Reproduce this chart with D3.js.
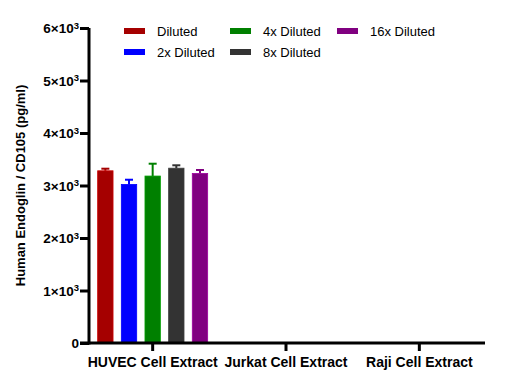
<!DOCTYPE html>
<meta charset="utf-8">
<style>
  body{ margin:0; background:#fff; }
  text{ font-family: "Liberation Sans", Arial, sans-serif; fill:#000; }
</style>
<svg width="529" height="389"></svg>
<script src="https://d3js.org/d3.v7.min.js"></script>
<script>
  // data
  const groups = ['HUVEC Cell Extract', 'Jurkat Cell Extract', 'Raji Cell Extract']
  const series = ['Diluted', '2x Diluted', '4x Diluted', '8x Diluted', '16x Diluted']
  const colors = ['#a50000', '#0000ff', '#008000', '#333333', '#800080']
  const means = [3280, 3020, 3180, 3330, 3230]
  const errs = [40, 90, 235, 55, 65]
  const yTicks = [0, 1000, 2000, 3000, 4000, 5000, 6000]

  const svg = d3.select('svg')
  const plotTop = 28, plotBottom = 343, plotLeft = 89, plotRight = 486

  const y = d3.scaleLinear().domain([0, 6000]).range([plotBottom, plotTop])
  const x = d3.scaleBand().domain(groups).range([86, plotRight])
  const xs = d3.scaleBand().domain(series).range([-55, 55]).paddingInner(0.35)

  // bars (only HUVEC has values)
  const g = svg.append('g')
    .attr('transform', 'translate(' + (x(groups[0]) + x.bandwidth()/2) + ',0)')

  // error bars
  g.selectAll('.err')
    .data(series)
    .enter()
    .append('g')
    .each(function(d, i){
      const cx = xs(d) + xs.bandwidth()/2
      const sel = d3.select(this)
      sel.append('line')
        .attr('x1', cx).attr('x2', cx)
        .attr('y1', y(means[i])).attr('y2', y(means[i] + errs[i]))
        .attr('stroke', colors[i]).attr('stroke-width', 2)
      sel.append('line')
        .attr('x1', cx - 4).attr('x2', cx + 4)
        .attr('y1', y(means[i] + errs[i])).attr('y2', y(means[i] + errs[i]))
        .attr('stroke', colors[i]).attr('stroke-width', 2)
    })

  g.selectAll('rect')
    .data(series)
    .enter()
    .append('rect')
    .attr('x', d => xs(d))
    .attr('width', xs.bandwidth())
    .attr('y', (d, i) => y(means[i]))
    .attr('height', (d, i) => plotBottom - y(means[i]))
    .attr('fill', (d, i) => colors[i])
    .attr('stroke', (d, i) => d3.color(colors[i]).brighter(0.6))
    .attr('stroke-width', 0.8)

  // y axis
  const yAxis = svg.append('g')
    .attr('transform', 'translate(' + plotLeft + ',0)')
    .call(d3.axisLeft(y).tickValues(yTicks).tickSize(9).tickFormat(''))
  yAxis.select('.domain').attr('stroke-width', 3).attr('d', 'M0,' + plotTop + 'V' + (plotBottom + 1.5))
  yAxis.selectAll('.tick line').attr('stroke-width', 3)
  yAxis.selectAll('.tick').each(function(d){
    const t = d3.select(this).append('text')
      .attr('x', -10).attr('dy', '0.36em')
      .attr('text-anchor', 'end')
      .attr('font-size', 13.5).attr('font-weight', 'bold')
    if(d === 0){
      t.text('0')
    }else{
      t.append('tspan').text((d/1000) + '×10')
      t.append('tspan').text('3').attr('font-size', 9.5).attr('dy', '-0.5em')
    }
  })

  // x axis
  const xAxis = svg.append('g')
    .attr('transform', 'translate(0,' + plotBottom + ')')
    .call(d3.axisBottom(x).tickSize(8).tickSizeOuter(0))
  xAxis.select('.domain').attr('stroke-width', 3).attr('d', 'M80,0H' + (plotRight - 1))
  xAxis.selectAll('.tick line').attr('stroke-width', 3)
  xAxis.selectAll('.tick text')
    .attr('y', 14)
    .attr('font-size', 14).attr('font-weight', 'bold')
    .style('font-family', '"Liberation Sans", Arial, sans-serif')

  // y label
  svg.append('text')
    .attr('transform', 'translate(25,' + ((plotTop + plotBottom)/2 + 0) + ') rotate(-90)')
    .attr('text-anchor', 'middle')
    .attr('font-size', 13).attr('font-weight', 'bold')
    .text('Human Endoglin / CD105 (pg/ml)')

  // legend
  const legPos = [[124, 31], [124, 52], [230, 31], [230, 52], [337, 31]]
  const leg = svg.selectAll('.leg')
    .data(series)
    .enter()
    .append('g')
    .attr('transform', (d, i) => 'translate(' + legPos[i] + ')')
  leg.append('rect')
    .attr('x', 0).attr('y', -3).attr('width', 21).attr('height', 6)
    .attr('fill', (d, i) => colors[i])
  leg.append('text')
    .attr('x', 33).attr('dy', '0.36em')
    .attr('font-size', 13)
    .text(d => d)
</script>
